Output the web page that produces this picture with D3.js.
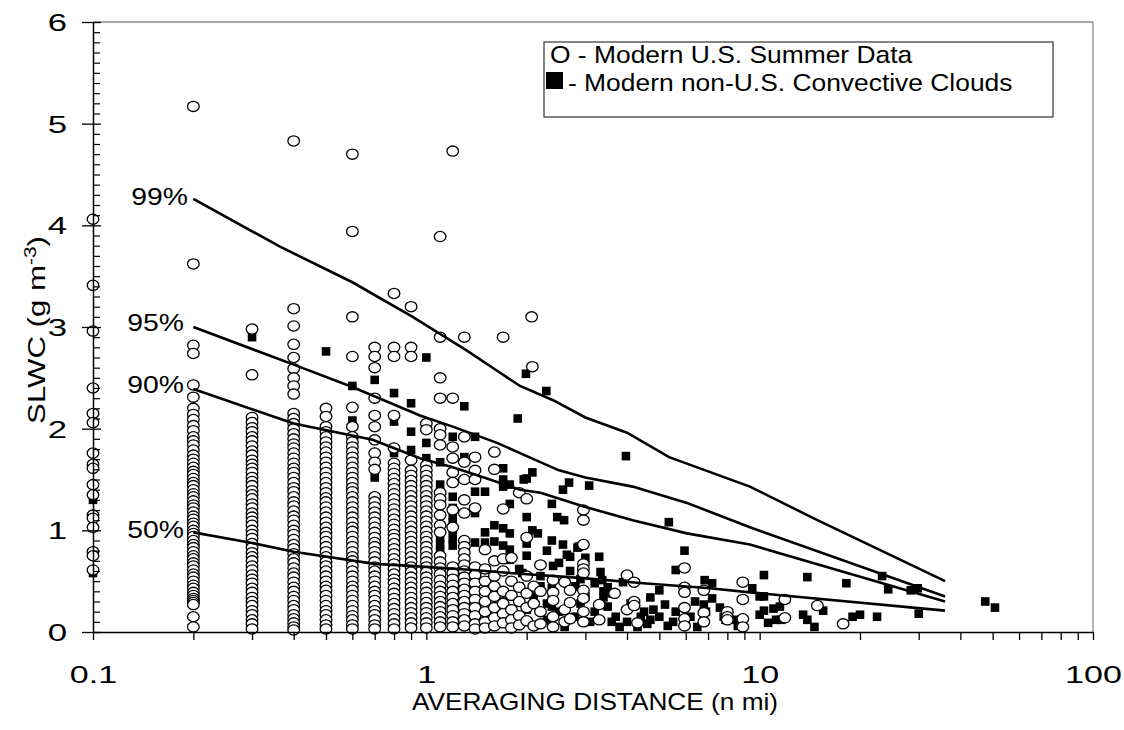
<!DOCTYPE html>
<html><head><meta charset="utf-8">
<script src="https://cdn.jsdelivr.net/npm/d3@7"></script>
<style>body{margin:0;background:#fff}svg{display:block}text{font-family:"Liberation Sans",Arial,sans-serif;fill:#000}</style>
</head><body>
<svg id="c" width="1124" height="730"></svg>
<script>
// ---------- DATA ----------
const xTickValues = [0.1, 1, 10, 100];
const xTickLabels = ["0.1", "1", "10", "100"];
const yTickValues = [0, 1, 2, 3, 4, 5, 6];
const yTickLabels = ["0", "1", "2", "3", "4", "5", "6"];

// Modern U.S. Summer Data: columns at fixed averaging distances
const usColX = [0.1, 0.2, 0.3, 0.4, 0.5, 0.6, 0.7, 0.8, 0.9, 1.0, 1.1, 1.2, 1.3, 1.4];
const usColY = [
  [4.06,3.41,2.96,2.40,2.15,2.06,1.76,1.65,1.61,1.45,1.35,1.15,1.12,1.03,0.79,0.75,0.61],
  [5.17,3.62,2.82,2.74,2.43,2.31,2.20,2.14,2.09,2.03,1.98,1.92,1.88,1.84,1.79,1.74,1.70,1.66,1.62,1.58,1.55,1.51,1.47,1.44,1.40,1.36,1.33,1.29,1.25,1.22,1.18,1.14,1.11,1.07,1.04,1.00,0.97,0.94,0.90,0.86,0.83,0.79,0.75,0.72,0.68,0.65,0.61,0.57,0.54,0.50,0.46,0.43,0.39,0.36,0.33,0.31,0.29,0.27,0.15,0.05],
  [2.98,2.53,2.11,2.06,2.01,1.97,1.92,1.88,1.83,1.78,1.74,1.69,1.65,1.61,1.57,1.52,1.48,1.44,1.39,1.35,1.31,1.26,1.22,1.17,1.13,1.09,1.05,1.00,0.96,0.92,0.87,0.83,0.78,0.74,0.70,0.65,0.61,0.56,0.52,0.48,0.43,0.39,0.34,0.30,0.26,0.21,0.17,0.12,0.08,0.03],
  [4.83,3.18,3.01,2.83,2.70,2.59,2.50,2.42,2.34,2.15,2.10,2.05,2.00,1.95,1.90,1.85,1.81,1.76,1.71,1.66,1.61,1.57,1.52,1.47,1.42,1.38,1.33,1.28,1.24,1.19,1.14,1.10,1.05,1.00,0.96,0.91,0.86,0.82,0.77,0.72,0.68,0.63,0.58,0.54,0.49,0.44,0.40,0.35,0.31,0.26,0.22,0.17,0.13,0.09,0.05,0.02],
  [2.20,2.12,2.02,1.97,1.92,1.87,1.82,1.77,1.72,1.67,1.62,1.57,1.52,1.47,1.42,1.37,1.32,1.28,1.23,1.18,1.13,1.08,1.03,0.98,0.94,0.89,0.84,0.79,0.74,0.69,0.65,0.60,0.55,0.50,0.45,0.41,0.36,0.31,0.26,0.21,0.17,0.12,0.07,0.03],
  [4.70,3.94,3.10,2.71,2.21,2.02,1.92,1.87,1.82,1.77,1.72,1.67,1.62,1.57,1.52,1.47,1.42,1.38,1.33,1.28,1.23,1.18,1.13,1.08,1.03,0.99,0.94,0.89,0.84,0.79,0.74,0.70,0.65,0.60,0.55,0.50,0.45,0.41,0.36,0.31,0.26,0.21,0.16,0.12,0.07,0.03],
  [2.80,2.71,2.60,2.30,2.13,2.02,1.89,1.76,1.67,1.60,1.33,1.28,1.23,1.18,1.13,1.08,1.03,0.98,0.93,0.88,0.84,0.79,0.74,0.69,0.64,0.60,0.55,0.50,0.45,0.40,0.36,0.31,0.26,0.21,0.17,0.12,0.07,0.03],
  [3.33,2.80,2.71,2.13,1.81,1.66,1.61,1.56,1.51,1.46,1.41,1.36,1.31,1.26,1.21,1.16,1.11,1.06,1.01,0.96,0.92,0.87,0.82,0.77,0.72,0.67,0.62,0.57,0.52,0.48,0.43,0.38,0.33,0.28,0.23,0.18,0.13,0.08,0.03],
  [3.20,2.80,2.71,1.69,1.59,1.54,1.49,1.44,1.39,1.34,1.29,1.24,1.19,1.14,1.09,1.04,0.99,0.94,0.89,0.84,0.79,0.74,0.69,0.64,0.59,0.54,0.49,0.44,0.39,0.34,0.29,0.24,0.19,0.14,0.09,0.04],
  [2.05,1.99,1.64,1.59,1.54,1.49,1.44,1.39,1.34,1.29,1.24,1.19,1.14,1.09,1.04,0.99,0.94,0.89,0.84,0.79,0.74,0.69,0.64,0.59,0.54,0.49,0.44,0.39,0.34,0.29,0.24,0.19,0.14,0.09,0.04],
  [3.89,2.90,2.50,2.30,2.00,1.94,1.84,1.37,1.31,1.25,1.15,1.05,0.98,0.75,0.69,0.63,0.57,0.51,0.45,0.40,0.35,0.30,0.25,0.20,0.15,0.10,0.05],
  [4.73,2.30,1.82,1.71,1.57,1.47,1.20,1.03,0.64,0.58,0.52,0.46,0.40,0.34,0.28,0.22,0.16,0.10,0.05],
  [2.90,1.92,1.67,1.50,1.30,1.17,0.90,0.84,0.78,0.72,0.66,0.60,0.54,0.48,0.42,0.36,0.30,0.24,0.18,0.12,0.06],
  [1.72,1.59,1.50,1.22,0.64,0.56,0.48,0.40,0.32,0.24,0.16,0.08,0.03]
];
// Modern U.S. Summer Data: scattered points at longer distances [x, y]
const usScatter = [
  [1.5,0.81],[1.5,0.62],[1.5,0.50],[1.5,0.40],[1.5,0.30],[1.5,0.20],[1.5,0.10],[1.5,0.04],
  [1.6,1.77],[1.6,1.60],[1.6,0.70],[1.6,0.55],[1.6,0.45],[1.6,0.35],[1.6,0.24],[1.6,0.14],[1.6,0.06],
  [1.7,2.90],[1.7,1.21],[1.7,0.72],[1.7,0.60],[1.7,0.40],[1.7,0.28],[1.7,0.18],[1.7,0.09],
  [1.8,0.73],[1.8,0.50],[1.8,0.36],[1.8,0.22],[1.8,0.12],[1.8,0.04],
  [1.9,1.37],[1.9,0.44],[1.9,0.30],[1.9,0.16],[1.9,0.07],
  [2.0,1.31],[2.0,0.93],[2.0,0.55],[2.0,0.38],[2.0,0.24],[2.0,0.11],
  [2.07,3.10],[2.08,2.61],[2.1,0.45],[2.1,0.28],[2.1,0.06],
  [2.2,0.66],[2.2,0.40],[2.2,0.20],[2.2,0.08],
  [2.4,0.51],[2.4,0.39],[2.4,0.31],[2.4,0.15],[2.4,0.05],
  [2.6,0.49],[2.6,0.22],[2.6,0.10],
  [2.7,0.41],[2.7,0.29],[2.7,0.13],
  [2.96,1.20],[2.96,1.10],[2.96,0.86],[2.96,0.67],[2.96,0.62],[2.96,0.58],[2.96,0.41],[2.96,0.33],[2.96,0.20],[2.96,0.10],
  [3.3,0.27],[3.3,0.12],[3.67,0.38],[4.0,0.56],[4.0,0.22],[4.2,0.49],[4.2,0.30],[4.2,0.26],[4.3,0.09],
  [5.95,0.63],[5.95,0.44],[5.95,0.39],[5.95,0.24],[5.95,0.13],[5.95,0.06],
  [6.8,0.41],[6.8,0.19],[6.8,0.10],
  [8.0,0.20],[8.0,0.15],[8.0,0.12],
  [8.9,0.49],[8.9,0.32],[8.9,0.13],[8.9,0.05],
  [11.9,0.32],[11.9,0.14],[14.9,0.26],[17.8,0.08]
];
// Modern non-U.S. Convective Clouds [x, y]
const nonUS = [
  [0.1,1.30],[0.1,0.58],[0.3,2.90],[0.5,2.76],[0.5,2.02],
  [0.6,2.42],[0.6,2.08],[0.6,1.87],[0.7,2.48],[0.7,1.52],
  [0.8,2.35],[0.8,2.07],[0.8,1.76],[0.9,2.25],[0.9,1.97],[0.9,1.79],
  [1.0,2.70],[1.0,1.86],[1.0,1.71],[1.0,1.55],[1.0,1.45],
  [1.1,1.67],[1.1,1.45],[1.1,0.93],[1.1,0.86],[1.1,0.80],
  [1.2,1.92],[1.2,1.33],[1.2,1.22],[1.2,1.15],[1.2,1.08],[1.2,1.00],[1.2,0.92],[1.2,0.85],
  [1.3,2.22],[1.3,1.72],[1.3,0.71],[1.3,0.45],
  [1.4,1.92],[1.4,1.50],[1.4,1.38],[1.4,1.17],[1.4,0.88],[1.4,0.58],[1.4,0.35],
  [1.5,1.38],[1.5,0.98],[1.5,0.88],[1.5,0.62],[1.5,0.20],
  [1.6,1.05],[1.6,0.89],[1.6,0.70],[1.6,0.42],
  [1.7,1.61],[1.7,1.50],[1.7,1.43],[1.7,1.02],[1.7,0.85],[1.7,0.30],
  [1.78,1.45],[1.78,1.26],[1.78,0.97],[1.78,0.81],[1.78,0.71],
  [1.88,2.10],[1.9,0.62],[1.9,0.45],
  [1.99,2.54],[1.96,1.50],[2.0,1.51],[2.08,1.57],[2.0,1.13],[2.0,0.87],[2.0,0.75],[1.94,0.58],[2.0,0.22],
  [2.08,1.0],[2.1,0.35],[2.16,0.97],[2.2,0.55],[2.2,0.45],
  [2.29,2.37],[2.3,0.80],[2.3,0.28],[2.3,0.12],
  [2.38,1.26],[2.38,0.90],[2.4,0.65],[2.38,0.43],[2.38,0.33],[2.38,0.25],
  [2.47,1.13],[2.5,0.68],[2.5,0.20],
  [2.57,1.40],[2.59,1.10],[2.57,0.86],[2.64,0.76],[2.6,0.05],
  [2.68,1.47],[2.7,0.74],[2.7,0.60],
  [2.8,0.15],[2.8,0.45],[2.84,0.83],[2.87,0.84],[2.9,0.52],[2.9,0.28],
  [3.0,0.73],[3.0,0.35],[3.08,1.44],[3.1,0.10],[3.2,0.20],[3.2,0.48],
  [3.3,0.74],[3.33,0.59],[3.37,0.51],[3.4,0.34],[3.4,0.40],[3.5,0.44],[3.5,0.25],[3.6,0.38],[3.6,0.10],[3.7,0.15],[3.8,0.05],
  [3.89,0.49],[3.97,1.73],[4.0,0.10],[4.1,0.28],[4.3,0.05],[4.4,0.15],[4.5,0.20],[4.6,0.08],
  [4.7,0.34],[4.8,0.22],[4.7,0.12],[5.0,0.41],[5.0,0.15],[5.2,0.27],[5.3,0.06],[5.34,1.08],[5.5,0.10],[5.6,0.61],[5.6,0.20],[5.95,0.80],
  [6.0,0.08],[6.2,0.15],[6.4,0.30],[6.5,0.05],
  [6.84,0.51],[6.8,0.27],[6.9,0.20],[6.8,0.12],[7.2,0.48],[7.2,0.33],
  [7.6,0.24],[7.8,0.15],[7.9,0.12],[8.5,0.12],[8.6,0.06],
  [9.5,0.43],[10.0,0.35],[10.3,0.35],[10.3,0.56],[10.3,0.21],[10.0,0.17],[10.6,0.09],[11.0,0.23],[11.5,0.25],[11.2,0.12],[11.6,0.12],
  [13.9,0.54],[13.5,0.17],[13.9,0.12],[14.6,0.05],[15.5,0.21],[18.2,0.48],[19.0,0.15],[20.0,0.17],[22.5,0.15],
  [23.3,0.55],[24.3,0.42],[28.4,0.41],[29.8,0.43],[30.0,0.18],[47.5,0.30],[50.8,0.24]
];
// Percentile curves [x, y]
const p99 = [[0.2,4.26],[0.364,3.79],[0.6,3.44],[0.91,3.10],[1.32,2.77],[1.63,2.57],[1.91,2.42],[2.4,2.28],[3.0,2.11],[4.0,1.96],[5.35,1.72],[9.35,1.43],[14.9,1.10],[36,0.50]];
const p95 = [[0.2,3.00],[0.4,2.63],[0.6,2.41],[0.957,2.13],[1.2,2.02],[1.63,1.86],[1.91,1.76],[2.5,1.59],[3.0,1.52],[4.16,1.43],[6.05,1.27],[9.35,1.03],[36,0.35]];
const p90 = [[0.2,2.39],[0.4,2.05],[0.69,1.89],[0.957,1.71],[1.2,1.62],[1.52,1.51],[1.91,1.40],[2.2,1.37],[3.0,1.23],[4.16,1.10],[6.05,0.97],[9.35,0.86],[36,0.30]];
const p50 = [[0.2,0.98],[0.3,0.875],[0.4,0.79],[0.7,0.67],[0.9,0.65],[1.38,0.61],[1.78,0.58],[2.95,0.53],[4.47,0.48],[7.1,0.43],[9.35,0.39],[36,0.21]];
const curveLabels = ["99%", "95%", "90%", "50%"];
const legendLabels = ["O - Modern U.S. Summer Data", "- Modern non-U.S. Convective Clouds"];

// ---------- CHART ----------
const svg = d3.select("#c");
const x = d3.scaleLog().domain([0.1, 100]).range([93, 1093]);
const y = d3.scaleLinear().domain([0, 6]).range([632, 22]);

// frame (top / right in gray)
svg.append("line").attr("x1", 93).attr("x2", 1093).attr("y1", 22).attr("y2", 22).attr("stroke", "#8a8a8a").attr("stroke-width", 1.3);
svg.append("line").attr("x1", 1093).attr("x2", 1093).attr("y1", 22).attr("y2", 632).attr("stroke", "#8a8a8a").attr("stroke-width", 1.3);

// squares (non-US) drawn first
const sq = 8.6;
svg.append("g").selectAll("rect").data(nonUS).join("rect")
  .attr("x", d => x(d[0]) - sq / 2).attr("y", d => y(d[1]) - sq / 2)
  .attr("width", sq).attr("height", sq).attr("fill", "#000");

// circles (US)
const usPoints = [];
usColX.forEach((cx, i) => usColY[i].forEach(v => usPoints.push([cx, v])));
usScatter.forEach(p => usPoints.push(p));
svg.append("g").selectAll("ellipse").data(usPoints).join("ellipse")
  .attr("cx", d => x(d[0])).attr("cy", d => y(d[1]))
  .attr("rx", 5.8).attr("ry", 5.1)
  .attr("fill", "#fff").attr("stroke", "#000").attr("stroke-width", 1.3);

// percentile lines
const line = d3.line().x(d => x(d[0])).y(d => y(d[1]));
const curves = [p99, p95, p90, p50];
svg.append("g").selectAll("path").data(curves).join("path")
  .attr("d", line).attr("fill", "none").attr("stroke", "#000").attr("stroke-width", 2.6);

// curve labels: right edge / baseline
const labelPos = [[188, 205], [184, 331], [184, 393], [184, 538]];
curveLabels.forEach((t, i) => {
  svg.append("text").attr("transform", `translate(${labelPos[i][0]},${labelPos[i][1]}) scale(1.18,1)`)
    .attr("text-anchor", "end").attr("font-size", 24).text(t);
});

// X axis
const xMinor = [];
[0.1, 1, 10].forEach(d => { for (let k = 1; k <= 9; k++) xMinor.push(d * k); });
xMinor.push(100);
const xAxis = d3.axisBottom(x).tickValues(xMinor).tickSizeInner(8).tickSizeOuter(0)
  .tickFormat(d => { const i = xTickValues.findIndex(v => Math.abs(v - d) < 1e-9); return i >= 0 ? xTickLabels[i] : ""; });
const gx = svg.append("g").attr("transform", "translate(0,632)").call(xAxis);
gx.select(".domain").attr("stroke", "#000").attr("stroke-width", 1.5);
gx.selectAll(".tick line").attr("stroke", "#000").attr("stroke-width", 1.3);
gx.selectAll(".tick text").attr("y", 0).attr("dy", 0).attr("font-size", 24)
  .attr("font-family", '"Liberation Sans",Arial,sans-serif').attr("fill", "#000")
  .attr("transform", "translate(0,51) scale(1.42,1)");

// Y axis: major ticks (crossing) with labels
const yAxis = d3.axisLeft(y).tickValues(yTickValues).tickSizeInner(11).tickSizeOuter(0)
  .tickFormat((d, i) => yTickLabels[i]);
const gy = svg.append("g").attr("transform", "translate(93,0)").call(yAxis);
gy.select(".domain").attr("stroke", "#000").attr("stroke-width", 1.5);
gy.selectAll(".tick line").attr("stroke", "#000").attr("stroke-width", 1.3).attr("x2", -11).attr("x1", 8);
gy.selectAll(".tick text").attr("x", 0).attr("dy", "0.36em").attr("font-size", 24)
  .attr("font-family", '"Liberation Sans",Arial,sans-serif').attr("fill", "#000")
  .attr("transform", "translate(-26,0) scale(1.45,1)");
// Y minor ticks inside
const yMinor = d3.range(1, 60).filter(k => k % 10 !== 0).map(k => k / 10);
const gym = svg.append("g").attr("transform", "translate(93,0)")
  .call(d3.axisRight(y).tickValues(yMinor).tickSizeInner(7).tickSizeOuter(0).tickFormat(""));
gym.select(".domain").remove();
gym.selectAll(".tick line").attr("stroke", "#000").attr("stroke-width", 1.2);

// axis titles
svg.append("text").attr("transform", "translate(595,710) scale(1.14,1)").attr("text-anchor", "middle")
  .attr("font-size", 23).text("AVERAGING DISTANCE (n mi)");
const yt = svg.append("text").attr("transform", "translate(45,330) rotate(-90) scale(1.3,1)")
  .attr("text-anchor", "middle").attr("font-size", 24);
yt.append("tspan").text("SLWC (g m");
yt.append("tspan").attr("font-size", 16).attr("dy", -9).text("-3");
yt.append("tspan").attr("dy", 9).text(")");

// legend
svg.append("rect").attr("x", 544).attr("y", 42).attr("width", 509).attr("height", 75)
  .attr("fill", "#fff").attr("stroke", "#333").attr("stroke-width", 1.2);
svg.append("text").attr("transform", "translate(550,63) scale(1.1,1)").attr("font-size", 24).text(legendLabels[0]);
svg.append("rect").attr("x", 546).attr("y", 72).attr("width", 17).attr("height", 17).attr("fill", "#000");
svg.append("text").attr("transform", "translate(568,91) scale(1.1,1)").attr("font-size", 24).text(legendLabels[1]);
</script>
</body></html>
